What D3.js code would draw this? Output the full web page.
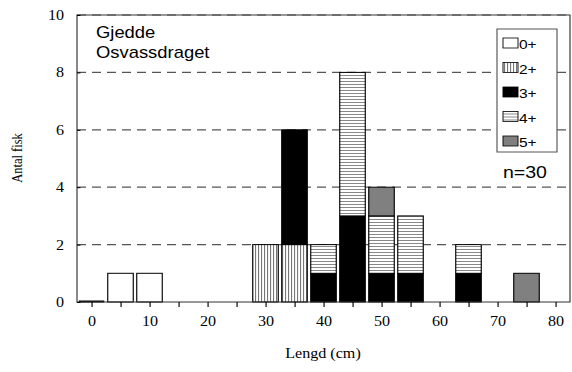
<!DOCTYPE html>
<html>
<head>
<meta charset="utf-8">
<script src="https://cdn.jsdelivr.net/npm/d3@7"></script>
<style>
  body { margin: 0; background: #fff; }
  svg { display: block; }
</style>
</head>
<body>
<svg id="chart" width="572" height="372"></svg>
<script>
// Length classes (cm, bin centres) and number of fish per age group
const bins    = [0, 5, 10, 30, 35, 40, 45, 50, 55, 65, 75];
const ageGroups = ["0+", "2+", "3+", "4+", "5+"];
const age0 = [0, 1, 1, 0, 0, 0, 0, 0, 0, 0, 0];
const age2 = [0, 0, 0, 2, 2, 0, 0, 0, 0, 0, 0];
const age3 = [0, 0, 0, 0, 4, 1, 3, 1, 1, 1, 0];
const age4 = [0, 0, 0, 0, 0, 1, 5, 2, 2, 1, 0];
const age5 = [0, 0, 0, 0, 0, 0, 0, 1, 0, 0, 1];
const xTicks = [0, 10, 20, 30, 40, 50, 60, 70, 80];
const xMinorTicks = [0, 5, 10, 15, 20, 25, 30, 35, 40, 45, 50, 55, 60, 65, 70, 75, 80];
const yTicks = [0, 2, 4, 6, 8, 10];
const titleLines = ["Gjedde", "Osvassdraget"];
const totalLabel = "n=30";

// The drawing is laid out in a horizontally widened frame
const SX = 1.15;
const X = v => v / SX;

const svg = d3.select("#chart");
const root = svg.append("g").attr("transform", `scale(${SX},1)`);

const plotLeft = 77, plotRight = 570, plotTop = 15, plotBottom = 302;
const x = d3.scaleLinear().domain([-2.5, 82.5]).range([X(plotLeft), X(plotRight)]);
const y = d3.scaleLinear().domain([0, 10]).range([plotBottom, plotTop]);
const halfW = 2.2;

// Fill patterns
const defs = svg.append("defs");
const vp = defs.append("pattern").attr("id", "vstripe").attr("patternUnits", "userSpaceOnUse")
  .attr("width", 3 / SX).attr("height", 3);
vp.append("rect").attr("width", 3 / SX).attr("height", 3).attr("fill", "#fff");
vp.append("rect").attr("width", 1.1 / SX).attr("height", 3).attr("fill", "#777");
const hp = defs.append("pattern").attr("id", "hstripe").attr("patternUnits", "userSpaceOnUse")
  .attr("width", 3).attr("height", 3);
hp.append("rect").attr("width", 3).attr("height", 3).attr("fill", "#fff");
hp.append("rect").attr("width", 3).attr("height", 1).attr("fill", "#888");

const fills = ["#ffffff", "url(#vstripe)", "#000000", "url(#hstripe)", "#808080"];
const color = d3.scaleOrdinal().domain(ageGroups).range(fills);

// Gridlines
root.append("g").selectAll("line").data(yTicks.filter(d => d > 0)).join("line")
  .attr("x1", X(plotLeft)).attr("x2", X(plotRight))
  .attr("y1", d => y(d)).attr("y2", d => y(d))
  .attr("stroke", "#555").attr("stroke-width", 1.2)
  .attr("stroke-dasharray", `${9 / SX},${6 / SX}`);

// Stacked bars
const table = bins.map((b, i) => ({
  bin: b, "0+": age0[i], "2+": age2[i], "3+": age3[i], "4+": age4[i], "5+": age5[i]
}));
const stacked = d3.stack().keys(ageGroups)(table);

const barG = root.append("g");
stacked.forEach(layer => {
  barG.append("g").selectAll("rect")
    .data(layer.filter(d => d[1] - d[0] > 0)).join("rect")
    .attr("x", d => x(d.data.bin - halfW))
    .attr("width", d => x(d.data.bin + halfW) - x(d.data.bin - halfW))
    .attr("y", d => y(d[1]))
    .attr("height", d => y(d[0]) - y(d[1]))
    .attr("fill", color(layer.key))
    .attr("stroke", "#000").attr("stroke-width", 1);
});
// Empty length classes drawn as flat bars on the baseline
barG.append("g").selectAll("line")
  .data(table.filter(d => ageGroups.every(k => d[k] === 0))).join("line")
  .attr("x1", d => x(d.bin - halfW)).attr("x2", d => x(d.bin + halfW))
  .attr("y1", y(0) - 0.5).attr("y2", y(0) - 0.5)
  .attr("stroke", "#000").attr("stroke-width", 2);

// Plot frame
root.append("rect")
  .attr("x", X(plotLeft)).attr("y", plotTop)
  .attr("width", X(plotRight) - X(plotLeft)).attr("height", plotBottom - plotTop)
  .attr("fill", "none").attr("stroke", "#333").attr("stroke-width", 1);

// X axis
const xAxis = d3.axisBottom(x).tickValues(xMinorTicks).tickSize(5).tickPadding(9)
  .tickFormat(d => xTicks.includes(d) ? d : "");
const xg = root.append("g").attr("transform", `translate(0,${plotBottom})`).call(xAxis);
xg.select(".domain").remove();
xg.selectAll("line").attr("stroke", "#000");
xg.selectAll("text").attr("font-family", "Liberation Serif, Times New Roman, serif")
  .attr("font-size", 14).attr("fill", "#000");

// Y axis
const yAxis = d3.axisLeft(y).tickValues(yTicks).tickSize(-3).tickPadding(X(13));
const yg = root.append("g").attr("transform", `translate(${X(plotLeft)},0)`).call(yAxis);
yg.select(".domain").remove();
yg.selectAll("line").attr("stroke", "#000");
yg.selectAll("text").attr("font-family", "Liberation Serif, Times New Roman, serif")
  .attr("font-size", 14).attr("fill", "#000");

// Axis titles
root.append("text")
  .attr("x", X(323)).attr("y", 358)
  .attr("text-anchor", "middle")
  .attr("font-family", "Liberation Serif, Times New Roman, serif").attr("font-size", 14)
  .text("Lengd (cm)");
root.append("text")
  .attr("transform", `translate(${X(22)},158) rotate(-90)`)
  .attr("text-anchor", "middle")
  .attr("font-family", "Liberation Serif, Times New Roman, serif").attr("font-size", 12.5)
  .text("Antal fisk");

// Species / location label
root.append("g").selectAll("text").data(titleLines).join("text")
  .attr("x", X(96)).attr("y", (d, i) => 38 + i * 20)
  .attr("font-family", "Liberation Sans, Arial, sans-serif").attr("font-size", 16)
  .text(d => d);

// Legend
const lg = root.append("g");
lg.append("rect")
  .attr("x", X(497)).attr("y", 29)
  .attr("width", X(557) - X(497)).attr("height", 123)
  .attr("fill", "#fff").attr("stroke", "#555").attr("stroke-width", 1);
const items = lg.selectAll("g.item").data(ageGroups).join("g")
  .attr("class", "item")
  .attr("transform", (d, i) => `translate(0,${43 + i * 24.5})`);
items.append("rect")
  .attr("x", X(503)).attr("y", -5)
  .attr("width", X(518) - X(503)).attr("height", 10)
  .attr("fill", d => color(d)).attr("stroke", "#000").attr("stroke-width", 0.8);
items.append("text")
  .attr("x", X(519)).attr("y", 6)
  .attr("font-family", "Liberation Sans, Arial, sans-serif").attr("font-size", 13.5)
  .text(d => d);

root.append("text")
  .attr("x", X(503)).attr("y", 178)
  .attr("font-family", "Liberation Sans, Arial, sans-serif").attr("font-size", 17)
  .text(totalLabel);
</script>
</body>
</html>
